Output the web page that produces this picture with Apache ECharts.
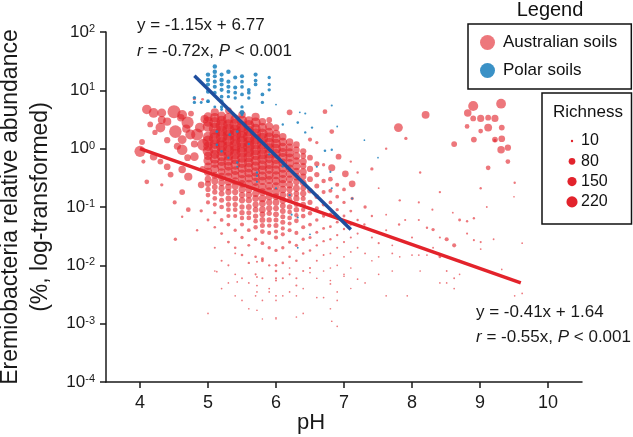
<!DOCTYPE html>
<html><head><meta charset="utf-8">
<script src="https://cdn.jsdelivr.net/npm/echarts@6/dist/echarts.min.js"></script>
<style>html,body{margin:0;padding:0;background:#fff}#c{width:633px;height:437px}</style>
</head><body><div id="c"></div>
<script>
// ---- tick labels / categories ----
const xTicks = [4, 5, 6, 7, 8, 9, 10];
const yTickExps = [-4, -3, -2, -1, 0, 1, 2];
const seriesNames = ['Australian soils', 'Polar soils'];
const richnessKeys = [10, 80, 150, 220];

// ---- regression lines (pH, abundance %) ----
const fitAus = [[4.0, 1.0], [9.6, 0.005]];
const fitPolar = [[4.8, 17.8], [7.1, 0.041]];
const textAus = ['y = -0.41x + 1.64', '{i|r} = -0.55x, {i|P} < 0.001'];
const textPolar = ['y = -1.15x + 6.77', '{i|r} = -0.72x, {i|P} < 0.001'];

// ---- Australian soils: [pH, abundance %, richness] ----
const ausAcidic = [
[4.0,0.9,220],[4.03,1.3,60],[4.05,0.6,30],[4.1,4.7,160],[4.1,0.27,40],[4.15,2.6,60],[4.2,4.1,170],[4.2,0.73,100],
[4.22,1.9,50],[4.3,2.3,170],[4.3,0.6,60],[4.32,4.1,140],[4.32,3.1,110],[4.32,0.24,20],[4.4,2.9,120],[4.4,1.4,70],
[4.4,0.49,80],[4.45,0.36,60],[4.5,4.3,300],[4.52,1.96,280],[4.51,0.12,30],[4.52,0.028,20],[4.55,1.1,90],[4.6,3.4,100],
[4.62,3.8,170],[4.62,1.43,140],[4.62,0.96,200],[4.62,0.44,100],[4.62,0.18,60],[4.62,0.068,10],[4.68,2.2,120],[4.7,2.8,260],
[4.7,0.7,80],[4.71,0.33,120],[4.71,0.09,40],[4.74,1.75,180],[4.75,4.0,60],[4.8,0.73,130],[4.8,1.2,90],[4.84,1.75,260],
[4.84,0.04,10],[4.8,7.2,20],[4.92,7.0,15],[4.88,2.3,170],[4.9,0.24,80],[4.9,0.086,20],[4.93,1.17,260],[4.92,0.45,60],[4.95,3.2,120]
];
const ausCoreA = [
[5.0,3.5,150],[5.0,2.4,200],[5.0,1.6,180],[5.0,1.1,160],[5.0,0.75,120],[5.0,0.5,100],[5.0,0.3,80],[5.0,0.2,50],[5.0,0.12,30],[5.0,0.06,15],
[5.1,4.2,120],[5.1,2.8,220],[5.1,1.8,200],[5.1,1.2,180],[5.1,0.8,150],[5.1,0.55,120],[5.1,0.35,90],[5.1,0.22,60],[5.1,0.14,40],[5.1,0.08,20],[5.1,0.045,12],[5.1,0.02,8],[5.1,0.008,5],
[5.2,3.0,180],[5.2,2.0,230],[5.2,1.3,200],[5.2,0.9,170],[5.2,0.6,140],[5.2,0.4,100],[5.2,0.26,80],[5.2,0.17,60],[5.2,0.1,40],[5.2,0.06,25],[5.2,0.035,15],[5.2,0.012,8],[5.2,0.004,5],
[5.3,4.5,80],[5.3,2.6,200],[5.3,1.7,240],[5.3,1.1,200],[5.3,0.75,170],[5.3,0.5,140],[5.3,0.33,110],[5.3,0.22,80],[5.3,0.14,60],[5.3,0.09,40],[5.3,0.05,25],[5.3,0.025,15],[5.3,0.01,8],[5.3,0.005,5],
[5.4,3.2,160],[5.4,2.1,220],[5.4,1.4,200],[5.4,0.95,190],[5.4,0.65,160],[5.4,0.42,130],[5.4,0.28,100],[5.4,0.18,70],[5.4,0.11,50],[5.4,0.07,30],[5.4,0.04,20],[5.4,0.02,12],[5.4,0.007,6],[5.4,0.003,5],
[5.5,3.8,100],[5.5,2.4,220],[5.5,1.6,230],[5.5,1.05,200],[5.5,0.7,180],[5.5,0.46,150],[5.5,0.3,120],[5.5,0.2,90],[5.5,0.13,70],[5.5,0.08,50],[5.5,0.05,30],[5.5,0.03,20],[5.5,0.015,12],[5.5,0.006,6],[5.5,0.0025,5]
];
const ausCoreB = [
[5.6,3.0,150],[5.6,2.0,200],[5.6,1.3,220],[5.6,0.88,200],[5.6,0.58,170],[5.6,0.38,140],[5.6,0.25,110],[5.6,0.16,80],[5.6,0.1,60],[5.6,0.065,40],[5.6,0.04,25],[5.6,0.022,15],[5.6,0.011,10],[5.6,0.005,6],[5.6,0.0018,5],
[5.7,3.5,120],[5.7,2.2,180],[5.7,1.45,210],[5.7,0.95,200],[5.7,0.62,180],[5.7,0.4,150],[5.7,0.27,120],[5.7,0.17,90],[5.7,0.11,70],[5.7,0.07,50],[5.7,0.045,35],[5.7,0.028,20],[5.7,0.014,12],[5.7,0.007,8],[5.7,0.003,5],
[5.8,2.9,100],[5.8,1.8,200],[5.8,1.2,210],[5.8,0.8,190],[5.8,0.52,170],[5.8,0.34,150],[5.8,0.22,120],[5.8,0.14,100],[5.8,0.09,80],[5.8,0.06,60],[5.8,0.038,40],[5.8,0.024,25],[5.8,0.013,15],[5.8,0.006,8],[5.8,0.0025,5],[5.8,0.0012,4],
[5.9,3.1,60],[5.9,1.9,150],[5.9,1.25,190],[5.9,0.82,180],[5.9,0.54,160],[5.9,0.35,140],[5.9,0.23,110],[5.9,0.15,90],[5.9,0.095,70],[5.9,0.06,50],[5.9,0.036,30],[5.9,0.02,20],[5.9,0.01,10],[5.9,0.004,6],
[6.0,2.3,80],[6.0,1.5,150],[6.0,1.0,180],[6.0,0.66,170],[6.0,0.43,150],[6.0,0.28,130],[6.0,0.18,100],[6.0,0.12,80],[6.0,0.075,60],[6.0,0.048,45],[6.0,0.03,30],[6.0,0.018,20],[6.0,0.01,12],[6.0,0.0055,8],[6.0,0.0025,5],[6.0,0.0012,4],
[6.1,1.6,100],[6.1,1.05,150],[6.1,0.7,160],[6.1,0.46,140],[6.1,0.3,120],[6.1,0.2,100],[6.1,0.13,80],[6.1,0.085,60],[6.1,0.055,45],[6.1,0.034,30],[6.1,0.02,20],[6.1,0.011,12],[6.1,0.006,8],[6.1,0.003,5]
];
const ausCoreExtra = [
[5.0,2.9,180],[5.0,1.35,220],[5.0,0.9,200],[5.0,0.62,150],[5.0,0.4,120],[5.0,0.25,70],[5.0,0.16,40],
[5.1,3.4,160],[5.1,2.2,250],[5.1,1.5,240],[5.1,1.0,220],[5.1,0.67,180],[5.1,0.45,140],[5.1,0.28,90],[5.1,0.18,50],[5.1,0.11,30],
[5.2,3.6,150],[5.2,2.5,260],[5.2,1.6,240],[5.2,1.1,230],[5.2,0.75,190],[5.2,0.5,150],[5.2,0.33,110],[5.2,0.21,70],[5.2,0.13,45],
[5.3,3.3,200],[5.3,2.1,260],[5.3,1.4,250],[5.3,0.92,220],[5.3,0.62,180],[5.3,0.41,140],[5.3,0.27,100],[5.3,0.18,70],[5.3,0.11,45],[5.3,0.07,30],
[5.4,2.6,240],[5.4,1.75,260],[5.4,1.15,230],[5.4,0.8,200],[5.4,0.53,170],[5.4,0.35,130],[5.4,0.23,90],[5.4,0.14,60],[5.4,0.09,40],
[5.5,3.0,200],[5.5,1.95,250],[5.5,1.3,240],[5.5,0.86,210],[5.5,0.57,180],[5.5,0.37,140],[5.5,0.25,100],[5.5,0.16,70],[5.5,0.1,50],[5.5,0.065,35],
[5.6,2.5,220],[5.6,1.6,250],[5.6,1.08,230],[5.6,0.72,200],[5.6,0.47,160],[5.6,0.31,120],[5.6,0.2,90],[5.6,0.13,70],[5.6,0.08,45],
[5.7,2.8,180],[5.7,1.8,220],[5.7,1.2,220],[5.7,0.78,190],[5.7,0.5,160],[5.7,0.33,130],[5.7,0.22,100],[5.7,0.14,80],[5.7,0.09,60],[5.7,0.057,40],
[5.8,2.3,150],[5.8,1.5,220],[5.8,1.0,200],[5.8,0.66,180],[5.8,0.43,150],[5.8,0.28,120],[5.8,0.18,100],[5.8,0.115,80],[5.8,0.075,60],[5.8,0.048,45],
[5.9,2.4,120],[5.9,1.55,180],[5.9,1.02,180],[5.9,0.68,160],[5.9,0.44,140],[5.9,0.29,110],[5.9,0.19,90],[5.9,0.12,70],[5.9,0.078,50],[5.9,0.048,35],
[6.0,1.8,120],[6.0,1.22,170],[6.0,0.82,160],[6.0,0.54,150],[6.0,0.35,120],[6.0,0.23,100],[6.0,0.15,80],[6.0,0.095,60],[6.0,0.06,45],[6.0,0.038,30],
[6.1,1.3,130],[6.1,0.86,150],[6.1,0.57,140],[6.1,0.37,120],[6.1,0.25,100],[6.1,0.16,80],[6.1,0.105,60],[6.1,0.068,45],[6.1,0.043,30],
[6.2,1.05,110],[6.2,0.7,120],[6.2,0.46,110],[6.2,0.3,90],[6.2,0.2,70],[6.2,0.13,55],[6.2,0.082,40],[6.2,0.052,30],
[6.3,0.95,80],[6.3,0.62,90],[6.3,0.41,90],[6.3,0.27,80],[6.3,0.17,60],[6.3,0.11,45],[6.3,0.072,35],
[6.4,0.75,60],[6.4,0.5,70],[6.4,0.33,70],[6.4,0.21,60],[6.4,0.14,45],[6.4,0.09,35]
];
const ausCoreC = [
[6.2,4.2,60],[6.2,1.3,100],[6.2,0.85,140],[6.2,0.56,130],[6.2,0.37,110],[6.2,0.24,90],[6.2,0.16,70],[6.2,0.1,55],[6.2,0.065,40],[6.2,0.04,30],[6.2,0.025,20],[6.2,0.014,12],[6.2,0.007,8],[6.2,0.0035,5],
[6.3,1.17,80],[6.3,0.75,100],[6.3,0.5,110],[6.3,0.33,100],[6.3,0.21,85],[6.3,0.14,70],[6.3,0.09,55],[6.3,0.058,40],[6.3,0.036,30],[6.3,0.022,20],[6.3,0.012,12],[6.3,0.006,8],[6.3,0.003,5],
[6.4,0.9,70],[6.4,0.6,90],[6.4,0.4,90],[6.4,0.26,80],[6.4,0.17,70],[6.4,0.11,55],[6.4,0.07,40],[6.4,0.045,30],[6.4,0.028,20],[6.4,0.016,12],[6.4,0.008,8],[6.4,0.004,5],
[6.5,1.43,30],[6.5,0.7,60],[6.5,0.45,70],[6.5,0.3,60],[6.5,0.19,55],[6.5,0.12,45],[6.5,0.078,35],[6.5,0.05,25],[6.5,0.03,18],[6.5,0.018,12],[6.5,0.009,8],
[6.6,1.27,20],[6.6,0.55,50],[6.6,0.36,50],[6.6,0.23,45],[6.6,0.15,40],[6.6,0.095,30],[6.6,0.06,22],[6.6,0.037,16],[6.6,0.022,10],[6.6,0.012,7],[6.6,0.006,5],
[6.72,4.3,40],[6.7,0.53,20],[6.7,0.28,35],[6.7,0.18,30],[6.7,0.11,25],[6.7,0.07,20],[6.7,0.043,15],[6.7,0.026,10],[6.7,0.015,7],[6.7,0.008,5],
[6.82,1.96,40],[6.82,0.47,90],[6.8,0.3,40],[6.8,0.19,30],[6.8,0.12,25],[6.8,0.075,20],[6.8,0.046,14],[6.8,0.028,10],[6.8,0.016,6],[6.8,0.009,5],
[6.92,0.73,60],[6.9,0.24,30],[6.9,0.15,25],[6.9,0.09,20],[6.9,0.055,15],[6.9,0.033,10],[6.9,0.02,7],[6.9,0.01,5],
[7.02,0.37,80],[7.0,0.2,25],[7.0,0.12,20],[7.0,0.07,15],[7.0,0.042,10],[7.0,0.025,8],[7.0,0.014,6],[7.0,0.007,5],
[7.12,0.25,80],[7.1,0.6,10],[7.12,0.14,20],[7.1,0.085,15],[7.1,0.05,10],[7.1,0.03,8],[7.1,0.017,6],[7.1,0.009,5],[7.1,0.004,4]
];
const ausAlkaline = [
[7.2,0.39,10],[7.31,0.1,20],[7.41,0.45,20],[7.51,0.21,6],[7.62,1.0,10],[7.62,0.074,6],[7.8,2.3,140],[7.82,0.13,10],
[7.91,1.5,20],[8.12,0.39,10],[8.2,3.8,110],[8.41,0.18,10],[8.62,1.2,60],[8.81,2.4,40],[8.82,4.1,100],[8.9,5.4,180],
[8.9,3.3,60],[8.91,1.43,60],[9.01,3.3,90],[9.01,2.0,40],[9.01,0.21,10],[9.12,3.4,60],[9.12,2.3,110],[9.12,0.47,40],
[9.22,3.3,90],[9.22,1.43,60],[9.22,1.38,20],[9.31,5.9,170],[9.32,2.3,60],[9.32,1.48,80],[9.31,0.96,100],[9.41,1.04,70],
[9.41,0.6,40],[9.51,0.26,10]
];
const ausTrace = [
[7.2,0.06,10],[7.2,0.035,8],[7.2,0.02,6],[7.3,0.05,10],[7.31,0.016,6],[7.31,0.005,5],[7.41,0.07,10],[7.41,0.03,8],
[7.41,0.012,5],[7.51,0.024,8],[7.51,0.014,6],[7.51,0.007,5],[7.62,0.04,8],[7.62,0.003,5],[7.71,0.022,6],[7.71,0.016,6],
[7.71,0.008,5],[7.81,0.05,10],[7.82,0.014,5],[7.93,0.003,5],[8.0,0.015,6],[8.0,0.03,8],[8.1,0.015,6],[8.1,0.06,8],
[8.12,0.008,5],[8.22,0.044,10],[8.22,0.015,6],[8.31,0.041,20],[8.31,0.02,6],[8.41,0.014,15],[8.41,0.005,5],[8.41,0.03,8],
[8.51,0.028,30],[8.51,0.008,6],[8.51,0.005,5],[8.62,0.022,30],[8.62,0.006,6],[8.62,0.004,5],[8.7,0.06,15],[8.7,0.012,8],
[8.7,0.007,5],[8.81,0.057,10],[8.81,0.035,8],[8.91,0.064,10],[8.91,0.027,8],[9.01,0.025,8],[9.01,0.019,6],[9.2,0.028,6],
[9.32,0.0085,5],[9.62,0.024,5],[9.62,0.0033,5],[9.51,0.003,5],[8.1,0.12,8],[8.3,0.09,8],[8.6,0.08,6],[9.1,0.1,6],
[9.5,0.15,5],[7.9,0.06,8],[5.72,0.0115,8],[5.8,0.012,15],[5.72,0.0063,6],[6.0,0.008,12],[6.0,0.006,8],[5.43,0.0052,5],
[5.72,0.0045,6],[5.72,0.0035,5],[5.9,0.0035,5],[6.0,0.003,6],[6.2,0.009,5],[6.3,0.0045,8],[6.5,0.0075,5],[6.6,0.0028,5],
[6.7,0.0028,5],[6.8,0.0055,5],[6.8,0.0048,6],[6.9,0.0035,5],[7.0,0.0065,5],[7.2,0.0058,5],[5.72,0.0017,5],[6.0,0.00126,5],
[6.3,0.0013,5],[6.4,0.0015,5],[6.8,0.0018,5],[6.82,0.0011,5],[6.9,0.0009,5],[5.13,0.0078,5],[5.0,0.0015,5],[5.4,0.016,6],[6.9,0.0025,5]
];

// ---- Polar soils: [pH, abundance %, richness] ----
const polarTop = [
[5.0,18.6,35],[5.0,15.1,35],[5.0,12.6,30],[5.0,9.5,30],[5.0,6.5,25],
[5.1,25.7,35],[5.1,20.9,35],[5.1,17.4,30],[5.1,14.1,30],[5.1,11.5,30],[5.1,9.1,25],
[5.2,18.6,30],[5.2,15.1,35],[5.2,12.6,30],[5.2,10.2,30],[5.2,7.8,25],[5.2,6.5,25],[5.2,5.2,20],
[5.3,20.9,35],[5.3,14.1,30],[5.3,11.5,30],[5.3,9.5,25],[5.3,7.8,20],
[5.4,16.6,30],[5.4,11.2,30],[5.4,9.1,25],[5.4,7.4,20],
[5.5,17.4,30],[5.5,14.1,25],[5.5,11.5,25],[5.5,8.5,25],[5.5,5.2,20],[5.5,4.2,40],
[5.6,10.2,25],[5.6,9.1,25],[5.6,7.4,20],
[5.7,18.6,30],[5.7,14.7,25],[5.7,12.6,25],
[5.8,8.5,25],[5.8,6.2,20],
[5.9,16.6,20],[5.9,12.6,20],[5.9,10.2,20],
[4.8,7.5,20],[4.8,6.2,20],[4.9,6.2,15],[5.0,6.4,15],[5.1,5.2,15],[5.2,4.7,15]
];
const polarLow = [
[5.13,1.96,15],[5.32,1.74,15],[5.43,1.96,15],[5.5,3.8,15],[5.13,1.17,12],[6.0,5.7,6],[6.43,4.0,8],[6.82,5.5,8],
[6.32,2.8,12],[6.43,1.9,10],[6.53,2.3,10],[6.72,0.92,12],[6.82,0.96,10],[6.1,2.6,10],[6.35,4.2,6],[5.43,0.58,10],
[5.43,0.49,8],[5.72,0.39,10],[5.72,0.34,8],[5.72,0.27,8],[6.2,0.16,10],[6.23,0.074,8],[6.32,0.066,8],[6.6,0.49,8],
[6.8,0.4,8],[6.82,0.21,8],[7.12,0.14,8],[6.32,0.02,6],[6.5,0.034,6],[6.0,0.21,8],[5.2,0.9,12],[5.3,0.7,10],
[5.6,1.2,10],[5.9,0.8,10],[6.1,0.5,10],[6.9,2.4,6],[7.3,1.4,5],[7.5,0.7,5]
];

const ausData = [].concat(ausAcidic, ausCoreA, ausCoreB, ausCoreExtra, ausCoreC, ausAlkaline, ausTrace);
const polarData = [].concat(polarTop, polarLow);

const FONT = '"Liberation Sans", Arial, Helvetica, sans-serif';
const RED = '#e2232c', BLUE = '#2585c0';
const sizeOf = r => 0.75 * Math.sqrt(r);

const chart = echarts.init(document.getElementById('c'), null, {renderer: 'canvas'});

const richRows = richnessKeys.map((r, i) => [
  {type: 'circle', shape: {cx: 572, cy: 141 + i * 20.3, r: sizeOf(r) / 2}, style: {fill: RED}},
  {type: 'text', x: 581, y: 141 + i * 20.3, style: {text: String(r), font: '16px ' + FONT, fill: '#111', verticalAlign: 'middle', align: 'left'}}
]).flat();

const option = {
  animation: false,
  backgroundColor: '#fff',
  textStyle: {fontFamily: FONT},
  grid: {left: 106, right: 51, top: 32, bottom: 55, containLabel: false, outerBoundsMode: 'none'},
  xAxis: {
    type: 'value', min: 3.5, max: 10.5,
    axisLine: {lineStyle: {color: '#1a1a1a', width: 1.5}},
    axisTick: {length: 6, lineStyle: {color: '#1a1a1a', width: 1.5}, customValues: xTicks},
    axisLabel: {fontSize: 18, color: '#1a1a1a', margin: 12, customValues: xTicks, fontFamily: FONT},
    splitLine: {show: false}
  },
  yAxis: {
    type: 'log', logBase: 10, min: 1e-4, max: 100, splitNumber: 6,
    name: 'Eremiobacteria relative abundance\n(%, log-transformed)',
    nameLocation: 'middle', nameGap: 50, nameRotate: 90,
    nameTextStyle: {fontSize: 23, lineHeight: 30, color: '#1a1a1a', fontFamily: FONT},
    axisLine: {show: true, lineStyle: {color: '#1a1a1a', width: 1.5}},
    axisTick: {show: true, length: 6, lineStyle: {color: '#1a1a1a', width: 1.5}},
    axisLabel: {
      margin: 11,
      formatter: v => {
        const e = Math.round(Math.log10(v));
        return yTickExps.indexOf(e) >= 0 ? '{b|10}{s|' + e + '}' : '';
      },
      rich: {
        b: {fontSize: 17, lineHeight: 17, verticalAlign: 'bottom', color: '#1a1a1a', fontFamily: FONT},
        s: {fontSize: 11, lineHeight: 11, verticalAlign: 'top', color: '#1a1a1a', fontFamily: FONT}
      }
    },
    splitLine: {show: false}
  },
  legend: {
    orient: 'vertical', left: 468, top: 24,
    itemWidth: 15, itemHeight: 15, itemGap: 11,
    padding: [10, 14, 10, 12],
    borderColor: '#111', borderWidth: 1.5,
    icon: 'circle', selectedMode: false,
    textStyle: {fontSize: 17, color: '#111', fontFamily: FONT, padding: [0, 0, 0, 3]},
    data: seriesNames
  },
  series: [
    {
      name: seriesNames[0], type: 'scatter', data: ausData,
      symbolSize: d => sizeOf(d[2]),
      itemStyle: {color: RED, opacity: 0.62},
      emphasis: {disabled: true}
    },
    {
      name: seriesNames[1], type: 'scatter', data: polarData,
      symbolSize: d => sizeOf(d[2]),
      itemStyle: {color: BLUE, opacity: 0.9},
      emphasis: {disabled: true}
    },
    {
      type: 'line', data: fitAus, symbol: 'none', silent: true,
      lineStyle: {color: '#e3232b', width: 3.5}, z: 5
    },
    {
      type: 'line', data: fitPolar, symbol: 'none', silent: true,
      lineStyle: {color: '#1f4e9e', width: 3.5}, z: 6
    }
  ],
  graphic: [
    {type: 'text', x: 137, y: 25, style: {text: textPolar[0], font: '17px ' + FONT, fill: '#1a1a1a', verticalAlign: 'middle'}},
    {type: 'text', x: 137, y: 51, style: {text: textPolar[1], font: '17px ' + FONT, fill: '#1a1a1a', verticalAlign: 'middle',
      rich: {i: {fontStyle: 'italic', fontSize: 17, fontFamily: FONT}}}},
    {type: 'text', x: 476, y: 312, style: {text: textAus[0], font: '17px ' + FONT, fill: '#1a1a1a', verticalAlign: 'middle'}},
    {type: 'text', x: 476, y: 337, style: {text: textAus[1], font: '17px ' + FONT, fill: '#1a1a1a', verticalAlign: 'middle',
      rich: {i: {fontStyle: 'italic', fontSize: 17, fontFamily: FONT}}}},
    {type: 'text', x: 311, y: 423, style: {text: 'pH', font: '22px ' + FONT, fill: '#1a1a1a', align: 'center', verticalAlign: 'middle'}},
    {type: 'text', x: 550, y: 10, style: {text: 'Legend', font: '20px ' + FONT, fill: '#111', align: 'center', verticalAlign: 'middle'}},
    {type: 'rect', shape: {x: 542, y: 93, width: 89.5, height: 131}, style: {fill: 'none', stroke: '#111', lineWidth: 1.5}},
    {type: 'text', x: 588, y: 112, style: {text: 'Richness', font: '17px ' + FONT, fill: '#111', align: 'center', verticalAlign: 'middle'}}
  ].concat(richRows)
};
chart.setOption(option);
</script>
</body></html>
